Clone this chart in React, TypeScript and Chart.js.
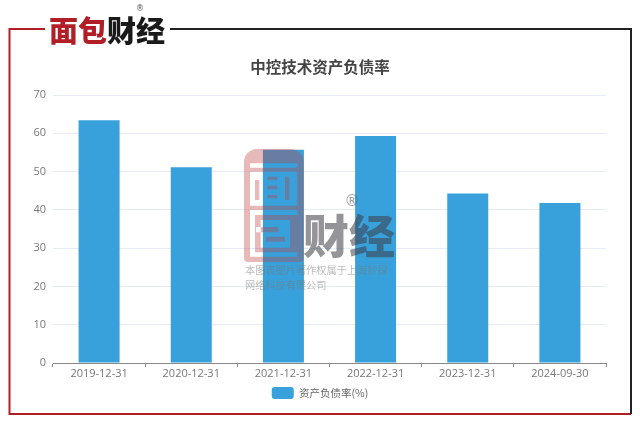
import React, { useEffect, useRef } from "react";
import { Chart, registerables } from "chart.js";

Chart.register(...registerables);

const categories = ["2019-12-31", "2020-12-31", "2021-12-31", "2022-12-31", "2023-12-31", "2024-09-30"];
const debtRatio = [63.4, 51.1, 55.7, 59.3, 44.3, 41.8];
const seriesName = "资产负债率(%)";
const chartTitle = "中控技术资产负债率";
const yMax = 70;
const yStep = 10;
const CJK = '"Noto Sans CJK SC", "Noto Sans", sans-serif';
const LATIN = '"Open Sans", sans-serif';

const framePlugin = {
  id: "frame",
  beforeDraw(chart: any) {
    const c = chart.ctx;
    c.save();
    c.fillStyle = "#ffffff";
    c.fillRect(0, 0, 640, 424);
    c.lineWidth = 2;
    c.strokeStyle = "#b11e26";
    c.beginPath();
    c.moveTo(45, 29);
    c.lineTo(9.5, 29);
    c.lineTo(9.5, 414);
    c.lineTo(631, 414);
    c.stroke();
    c.strokeStyle = "#222222";
    c.beginPath();
    c.moveTo(170, 29);
    c.lineTo(631, 29);
    c.lineTo(631, 414);
    c.stroke();
    c.textBaseline = "middle";
    c.textAlign = "left";
    c.font = `900 29px ${CJK}`;
    c.fillStyle = "#b11e26";
    c.fillText("面包", 49, 31);
    c.fillStyle = "#1a1a1a";
    c.fillText("财经", 107, 31);
    c.font = `8px "DejaVu Sans", sans-serif`;
    c.textAlign = "center";
    c.fillStyle = "#555555";
    c.fillText("®", 140, 9);
    c.restore();
  },
};

const watermarkPlugin = {
  id: "watermark",
  afterDatasetsDraw(chart: any) {
    const c = chart.ctx;
    c.save();
    // seal: a rounded pink block whose holes let the chart show through
    const hole = (x1: number, y1: number, x2: number, y2: number) =>
      c.rect(240 + x1 / 3, 145 + y1 / 3, (x2 - x1) / 3, (y2 - y1) / 3);
    c.beginPath();
    c.roundRect(244, 149, 59.5, 113, [13, 13, 4, 4]);
    hole(30, 55, 172, 68);
    hole(30, 80, 172, 182);
    hole(82, 95, 112, 105);
    hole(82, 122, 112, 133);
    hole(82, 150, 112, 160);
    hole(135, 95, 148, 165);
    hole(45, 105, 58, 165);
    hole(30, 195, 172, 335);
    hole(45, 210, 172, 322);
    hole(62, 225, 150, 308);
    hole(48, 246, 115, 262);
    hole(78, 275, 135, 290);
    c.fillStyle = "rgba(190,60,60,0.36)";
    c.fill("evenodd");

    c.textBaseline = "middle";
    c.textAlign = "left";
    c.font = `900 46px ${CJK}`;
    c.fillStyle = "rgba(60,60,70,0.55)";
    c.fillText("财经", 303, 236);
    c.font = `15px "DejaVu Sans", sans-serif`;
    c.textAlign = "center";
    c.fillStyle = "rgba(90,90,90,0.6)";
    c.fillText("®", 352, 202);
    c.textAlign = "left";
    c.font = `10.2px ${CJK}`;
    c.fillStyle = "rgba(120,120,120,0.5)";
    c.fillText("本图表图片著作权属于上海妙探", 245, 270);
    c.fillText("网络科技有限公司", 245, 285);
    c.restore();
  },
};

export default function App() {
  const ref = useRef<HTMLCanvasElement>(null);
  useEffect(() => {
    document.body.style.margin = "0";
    const chart = new Chart(ref.current as HTMLCanvasElement, {
      type: "bar",
      data: {
        labels: categories,
        datasets: [
          {
            label: seriesName,
            data: debtRatio,
            backgroundColor: "#38a1db",
            borderWidth: 0,
            barPercentage: 0.445,
            categoryPercentage: 1,
          },
        ],
      },
      options: {
        responsive: false,
        animation: false,
        devicePixelRatio: 1,
        layout: { padding: { left: 34, right: 34, top: 0, bottom: 15 } },
        plugins: {
          tooltip: { enabled: false },
          title: {
            display: true,
            text: chartTitle,
            color: "#444444",
            font: { family: CJK, size: 15.5, weight: "bold", lineHeight: 1.2 },
            padding: { top: 58, bottom: 18.4 },
          },
          legend: {
            display: true,
            position: "bottom",
            labels: {
              boxWidth: 22,
              boxHeight: 12,
              color: "#666666",
              font: { family: CJK, size: 10.5 },
              padding: 6,
              useBorderRadius: true,
              borderRadius: 3,
            },
          },
        },
        scales: {
          x: {
            afterFit(s: any) {
              s.height = 18;
            },
            grid: { drawOnChartArea: false, drawTicks: true, tickLength: 4, color: "#888888", offset: true },
            border: { display: true, color: "#888888", width: 1 },
            ticks: { color: "#777777", font: { family: LATIN, size: 11 }, padding: 0, maxRotation: 0, autoSkip: false },
          },
          y: {
            min: 0,
            max: yMax,
            afterFit(s: any) {
              s.width = 19;
            },
            grid: { color: "#e6ebf5", drawTicks: false },
            border: { display: false },
            ticks: { stepSize: yStep, color: "#777777", font: { family: LATIN, size: 11 }, padding: 7 },
          },
        },
      } as any,
      plugins: [framePlugin, watermarkPlugin],
    });
    return () => chart.destroy();
  }, []);
  return <canvas ref={ref} width={640} height={424} style={{ display: "block" }} />;
}
